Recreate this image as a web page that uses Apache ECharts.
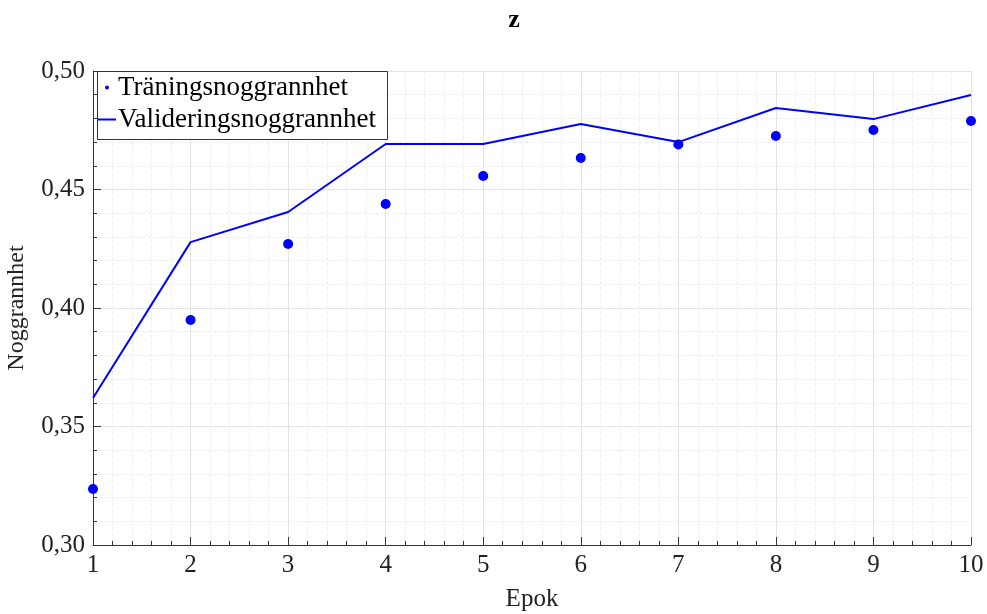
<!DOCTYPE html>
<html lang="sv">
<head>
    <meta charset="UTF-8">
    <title>z</title>
    <script src="https://cdn.jsdelivr.net/npm/echarts@6/dist/echarts.min.js"></script>
</head>
<style>
    html, body { margin: 0; padding: 0; background: #fff; }
    #chart { width: 987px; height: 614px; }
</style>
<body>
<div id="chart"></div>
<script>
    var epoker = [1, 2, 3, 4, 5, 6, 7, 8, 9, 10];
    var traning = [0.3236, 0.3949, 0.4270, 0.4439, 0.4557, 0.4633, 0.4690, 0.4726, 0.4751, 0.4789];
    var validering = [0.3620, 0.4278, 0.4405, 0.4692, 0.4692, 0.4776, 0.4700, 0.4844, 0.4797, 0.4899];

    var font = 'Liberation Serif';
    var chart = echarts.init(document.getElementById('chart'));

    function par(arr) {
        return arr.map(function (v, i) { return [epoker[i], v]; });
    }

    var option = {
        animation: false,
        title: {
            text: 'z',
            left: 509,
            top: 2,
            textAlign: 'center',
            textStyle: { fontFamily: font, fontWeight: 'bold', fontSize: 26, color: '#000' }
        },
        graphic: [{
            type: 'rect',
            left: 97,
            top: 71,
            shape: { width: 290, height: 68 },
            style: { fill: '#fff', stroke: '#333', lineWidth: 1 },
            z: 100
        }],
        grid: { left: 93, right: 16, top: 71, bottom: 69, outerBoundsMode: 'none' },
        legend: [
            {
                orient: 'vertical',
                left: 105,
                top: 74,
                padding: 0,
                itemWidth: 4,
                itemHeight: 4,
                z: 110,
                textStyle: { fontFamily: font, fontSize: 27, color: '#000', padding: [0, 0, 0, 4] },
                data: [{ name: 'Träningsnoggrannhet', icon: 'circle' }]
            },
            {
                orient: 'vertical',
                left: 98,
                top: 106,
                padding: 0,
                itemWidth: 18,
                itemHeight: 2,
                z: 110,
                textStyle: { fontFamily: font, fontSize: 27, color: '#000', padding: [0, 0, 0, -3] },
                data: [{ name: 'Valideringsnoggrannhet', icon: 'rect' }]
            }
        ],
        xAxis: {
            type: 'value',
            min: 1,
            max: 10,
            interval: 1,
            name: 'Epok',
            nameLocation: 'middle',
            nameGap: 42,
            nameTextStyle: { fontFamily: font, fontSize: 25, color: '#222' },
            axisLine: { lineStyle: { color: '#333', width: 1 } },
            axisTick: { inside: true, length: 8, lineStyle: { color: '#333' } },
            minorTick: { show: true, splitNumber: 5, length: 4, lineStyle: { color: '#333' } },
            axisLabel: { fontFamily: font, fontSize: 25, color: '#222', margin: 8 },
            splitLine: { show: true, lineStyle: { color: '#e3e3e3', width: 1 } },
            minorSplitLine: { show: true, lineStyle: { color: '#eeeeee', type: 'dashed', width: 1 } }
        },
        yAxis: {
            type: 'value',
            min: 0.3,
            max: 0.5,
            interval: 0.05,
            name: 'Noggrannhet',
            nameLocation: 'middle',
            nameGap: 64,
            nameTextStyle: { fontFamily: font, fontSize: 24, color: '#222' },
            axisLine: { show: true, lineStyle: { color: '#333', width: 1 } },
            axisTick: { show: true, inside: true, length: 8, lineStyle: { color: '#333' } },
            minorTick: { show: true, splitNumber: 5, length: 4, lineStyle: { color: '#333' } },
            axisLabel: {
                fontFamily: font, fontSize: 25, color: '#222', margin: 8,
                formatter: function (v) { return v.toFixed(2).replace('.', ','); }
            },
            splitLine: { show: true, lineStyle: { color: '#e3e3e3', width: 1 } },
            minorSplitLine: { show: true, lineStyle: { color: '#eeeeee', type: 'dashed', width: 1 } }
        },
        series: [
            {
                name: 'Träningsnoggrannhet',
                type: 'scatter',
                symbol: 'circle',
                symbolSize: 10,
                itemStyle: { color: '#0000ff', opacity: 1 },
                data: par(traning),
                z: 3
            },
            {
                name: 'Valideringsnoggrannhet',
                type: 'line',
                symbol: 'none',
                lineStyle: { color: '#0000ff', width: 2 },
                itemStyle: { color: '#0000ff' },
                data: par(validering),
                z: 2
            }
        ]
    };
    chart.setOption(option);
</script>
</body>
</html>
